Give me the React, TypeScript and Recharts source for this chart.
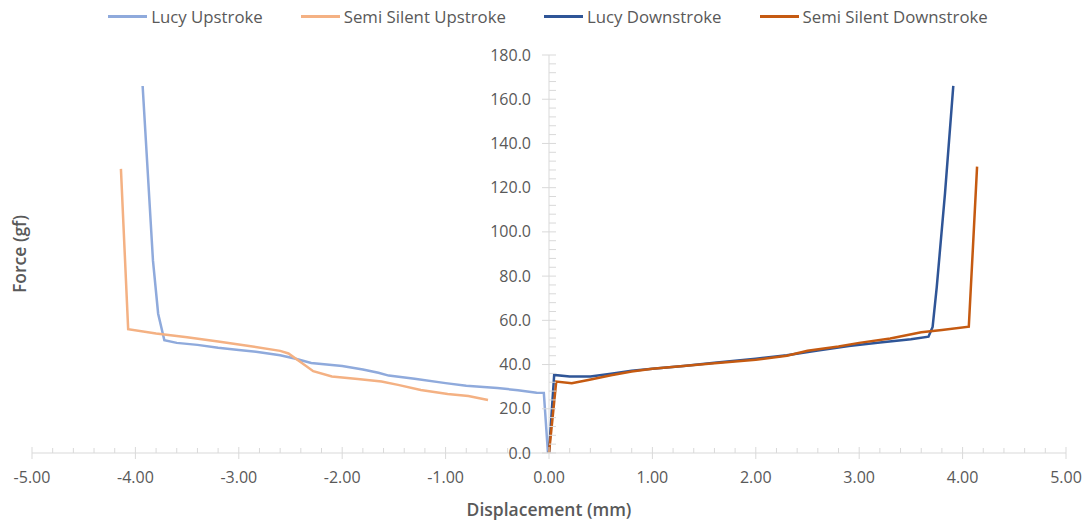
import React, { type ReactElement } from "react";
import {
  Legend,
  Line,
  LineChart,
  ReferenceLine,
  XAxis,
  YAxis,
} from "recharts";

type Point = { x: number; y: number };

const lucyUpstroke: Point[] = [
  { x: -3.93, y: 166 }, { x: -3.88, y: 126.5 }, { x: -3.83, y: 87 },
  { x: -3.78, y: 63 }, { x: -3.72, y: 51 }, { x: -3.6, y: 49.8 },
  { x: -3.4, y: 48.9 }, { x: -3.2, y: 47.6 }, { x: -3.0, y: 46.6 },
  { x: -2.8, y: 45.6 }, { x: -2.6, y: 44.2 }, { x: -2.45, y: 42.6 },
  { x: -2.3, y: 40.7 }, { x: -2.0, y: 39.3 }, { x: -1.8, y: 37.8 },
  { x: -1.65, y: 36.3 }, { x: -1.55, y: 35 }, { x: -1.3, y: 33.6 },
  { x: -1.0, y: 31.6 }, { x: -0.8, y: 30.4 }, { x: -0.5, y: 29.4 },
  { x: -0.3, y: 28.4 }, { x: -0.12, y: 27.3 }, { x: -0.05, y: 27.2 },
  { x: -0.01, y: 0 },
];

const semiSilentUpstroke: Point[] = [
  { x: -4.14, y: 128.5 }, { x: -4.07, y: 56 }, { x: -3.8, y: 54 },
  { x: -3.5, y: 52.4 }, { x: -3.2, y: 50.4 }, { x: -2.9, y: 48.4 },
  { x: -2.6, y: 46.2 }, { x: -2.52, y: 45 }, { x: -2.4, y: 41 },
  { x: -2.28, y: 37 }, { x: -2.1, y: 34.6 }, { x: -1.85, y: 33.5 },
  { x: -1.62, y: 32.3 }, { x: -1.46, y: 30.8 }, { x: -1.24, y: 28.5 },
  { x: -0.98, y: 26.7 }, { x: -0.78, y: 25.8 }, { x: -0.59, y: 24 },
];

const lucyDownstroke: Point[] = [
  { x: 0, y: 0 }, { x: 0.05, y: 35.3 }, { x: 0.2, y: 34.6 },
  { x: 0.4, y: 34.6 }, { x: 0.6, y: 35.8 }, { x: 0.8, y: 37.2 },
  { x: 1.0, y: 38.1 }, { x: 1.3, y: 39.4 }, { x: 1.6, y: 40.8 },
  { x: 2.0, y: 42.6 }, { x: 2.3, y: 44.2 }, { x: 2.6, y: 46.4 },
  { x: 2.9, y: 48.4 }, { x: 3.2, y: 50.0 }, { x: 3.5, y: 51.4 },
  { x: 3.67, y: 52.6 }, { x: 3.71, y: 57 }, { x: 3.75, y: 75 },
  { x: 3.83, y: 117.5 }, { x: 3.91, y: 166 },
];

const semiSilentDownstroke: Point[] = [
  { x: 0, y: 0 }, { x: 0.07, y: 32.3 }, { x: 0.22, y: 31.5 },
  { x: 0.38, y: 33 }, { x: 0.6, y: 35.2 }, { x: 0.8, y: 36.9 },
  { x: 1.0, y: 38.1 }, { x: 1.3, y: 39.4 }, { x: 1.6, y: 40.6 },
  { x: 2.0, y: 42.2 }, { x: 2.3, y: 44 }, { x: 2.5, y: 46.2 },
  { x: 2.8, y: 48.2 }, { x: 3.0, y: 49.8 }, { x: 3.3, y: 51.8 },
  { x: 3.6, y: 54.6 }, { x: 3.8, y: 55.6 }, { x: 4.06, y: 57.1 },
  { x: 4.1, y: 93 }, { x: 4.14, y: 129.5 },
];

const seriesNames = [
  "Lucy Upstroke",
  "Semi Silent Upstroke",
  "Lucy Downstroke",
  "Semi Silent Downstroke",
];
const seriesColors = ["#8FAADC", "#F4B183", "#2F5597", "#C55A11"];
const seriesData = [lucyUpstroke, semiSilentUpstroke, lucyDownstroke, semiSilentDownstroke];

// ticks every 0.2 mm / 4 gf, labels only on the major ones
const xTicks = Array.from({ length: 51 }, (_, i) => Math.round((-5 + i * 0.2) * 10) / 10);
const yTicks = Array.from({ length: 46 }, (_, i) => i * 4);

const CHART_W = 1075;
const CHART_H = 512;
const Y_AXIS_W = 24;
const X_AXIS_H = 67;
const LEGEND_H = 30;
const MARGIN = { top: 17, right: 17, bottom: 0, left: 0 };
const PLOT_W = CHART_W - MARGIN.left - MARGIN.right - Y_AXIS_W;
const AXIS_COLOR = "#D9D9D9";
const TEXT_COLOR = "#595959";
const FONT = "'Open Sans', 'Noto Sans', sans-serif";

const isMajor = (v: number, step: number) =>
  Math.abs(v / step - Math.round(v / step)) < 1e-6;

const XTick = (props: any): ReactElement => {
  const { x, y, payload } = props;
  const v = payload.value as number;
  const major = isMajor(v, 1);
  return (
    <g>
      <line x1={x} x2={x} y1={major ? y - 6 : y - 5} y2={major ? y + 6 : y} stroke={AXIS_COLOR} />
      {major && (
        <text x={x} y={y + 30} textAnchor="middle" fill={TEXT_COLOR} fontSize={16} fontFamily={FONT}>
          {v.toFixed(2)}
        </text>
      )}
    </g>
  );
};

// y axis sits on x = 0, so shift the ticks from the plot's left edge to its middle
const YTick = (props: any): ReactElement => {
  const { x, y, payload } = props;
  const v = payload.value as number;
  const major = isMajor(v, 20);
  const zx = x + PLOT_W / 2;
  return (
    <g>
      <line x1={major ? zx - 7 : zx} x2={zx + 7} y1={y} y2={y} stroke={AXIS_COLOR} />
      {major && (
        <text x={zx - 18} y={y} dy="0.35em" textAnchor="end" fill={TEXT_COLOR} fontSize={16} fontFamily={FONT}>
          {v.toFixed(1)}
        </text>
      )}
    </g>
  );
};

const LegendContent = (): ReactElement => (
  <div
    style={{
      display: "flex",
      justifyContent: "center",
      gap: 38,
      height: LEGEND_H,
      alignItems: "center",
      fontFamily: FONT,
      fontSize: 16.8,
      color: TEXT_COLOR,
      paddingLeft: 22,
    }}
  >
    {seriesNames.map((name, i) => (
      <div key={name} style={{ display: "flex", alignItems: "center" }}>
        <div style={{ width: 39, height: 3, background: seriesColors[i], marginRight: 4 }} />
        <span>{name}</span>
      </div>
    ))}
  </div>
);

export default function App(): ReactElement {
  return (
    <LineChart width={CHART_W} height={CHART_H} margin={MARGIN}>
      <Legend verticalAlign="top" content={<LegendContent />} wrapperStyle={{ top: -7 }} />
      <XAxis
        type="number"
        dataKey="x"
        domain={[-5, 5]}
        ticks={xTicks}
        interval={0}
        allowDuplicatedCategory={false}
        stroke={AXIS_COLOR}
        tickLine={false}
        tickSize={0}
        tickMargin={0}
        tick={<XTick />}
        height={X_AXIS_H}
        label={{
          value: "Displacement (mm)",
          position: "insideBottom",
          offset: 4,
          style: { fill: TEXT_COLOR, fontSize: 17.5, fontWeight: 600, fontFamily: FONT },
        }}
      />
      <YAxis
        type="number"
        dataKey="y"
        domain={[0, 180]}
        ticks={yTicks}
        interval={0}
        width={Y_AXIS_W}
        axisLine={false}
        tickLine={false}
        tickSize={0}
        tickMargin={0}
        tick={<YTick />}
        label={{
          value: "Force (gf)",
          angle: -90,
          position: "center",
          style: { fill: TEXT_COLOR, fontSize: 17.5, fontWeight: 600, fontFamily: FONT, textAnchor: "middle" },
        }}
      />
      <ReferenceLine x={0} stroke={AXIS_COLOR} />
      {seriesData.map((d, i) => (
        <Line
          key={seriesNames[i]}
          data={d}
          dataKey="y"
          name={seriesNames[i]}
          type="linear"
          stroke={seriesColors[i]}
          strokeWidth={2.5}
          dot={false}
          activeDot={false}
          isAnimationActive={false}
        />
      ))}
    </LineChart>
  );
}
